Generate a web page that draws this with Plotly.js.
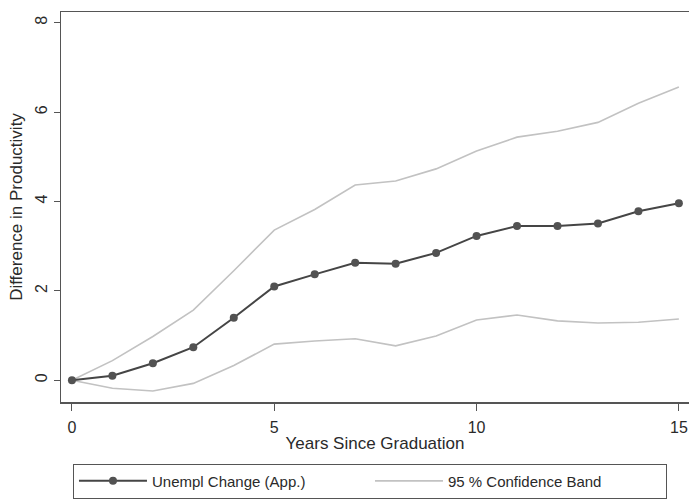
<!DOCTYPE html>
<html>
<head>
<meta charset="utf-8">
<script src="https://cdn.plot.ly/plotly-3.0.1.min.js"></script>
<style>html,body{margin:0;padding:0;background:#fff;}#chart{width:689px;height:499px;}</style>
</head>
<body>
<div id="chart"></div>
<script>
const years = [0,1,2,3,4,5,6,7,8,9,10,11,12,13,14,15];
const estimate = [0,0.10,0.38,0.74,1.40,2.10,2.37,2.63,2.61,2.85,3.23,3.45,3.45,3.51,3.78,3.96];
const upperBand = [0,0.44,0.98,1.57,2.45,3.36,3.82,4.37,4.46,4.73,5.13,5.44,5.57,5.77,6.20,6.56];
const lowerBand = [0,-0.18,-0.24,-0.07,0.33,0.81,0.88,0.93,0.77,0.99,1.35,1.46,1.33,1.28,1.30,1.37];
const seriesNames = ["Unempl Change (App.)", "95 % Confidence Band"];
const xTicks = [0,5,10,15];
const yTicks = [0,2,4,6,8];

const font = {family: "Liberation Sans, Arial, sans-serif", size: 15, color: "#2a2a2a"};
const traces = [
  {x: years, y: upperBand, mode: "lines", name: seriesNames[1], legendgroup: "band", showlegend: false,
   line: {color: "#c2c2c2", width: 1.6}},
  {x: years, y: lowerBand, mode: "lines", name: seriesNames[1], legendgroup: "band", showlegend: false,
   line: {color: "#c2c2c2", width: 1.6}},
  {x: years, y: estimate, mode: "lines+markers", name: seriesNames[0],
   line: {color: "#454545", width: 2}, marker: {color: "#525252", size: 8}},
  {x: [null], y: [null], mode: "lines", name: seriesNames[1], legendgroup: "band",
   line: {color: "#c2c2c2", width: 1.6}}
];
const layout = {
  width: 689, height: 499,
  margin: {l: 61, r: 0, t: 12, b: 92},
  paper_bgcolor: "#fff", plot_bgcolor: "#fff",
  font: font,
  showlegend: true,
  legend: {orientation: "h", x: 0.492, xanchor: "center", y: -0.158, yanchor: "top",
           bordercolor: "#555", borderwidth: 1, font: {size: 15, color: "#2a2a2a"},
           itemwidth: 68, entrywidth: 213, traceorder: "normal"},
  xaxis: {range: [-0.27, 15.25], tickvals: xTicks, ticks: "outside", ticklen: 7, tickcolor: "#555",
          ticklabelstandoff: 3,
          showline: true, linecolor: "#555", linewidth: 1.5, mirror: true, showgrid: false, zeroline: false,
          title: {text: "Years Since Graduation", standoff: 2, font: {size: 17}}, tickfont: {size: 16}},
  yaxis: {range: [-0.486, 8.24], tickvals: yTicks, ticks: "outside", ticklen: 6, tickcolor: "#555",
          tickangle: -90, showline: true, linecolor: "#555", linewidth: 1.5, showgrid: false, zeroline: false,
          title: {text: "Difference in Productivity", standoff: 6, font: {size: 17}}, tickfont: {size: 16}}
};
Plotly.newPlot("chart", traces, layout, {displayModeBar: false, staticPlot: true});
</script>
</body>
</html>
